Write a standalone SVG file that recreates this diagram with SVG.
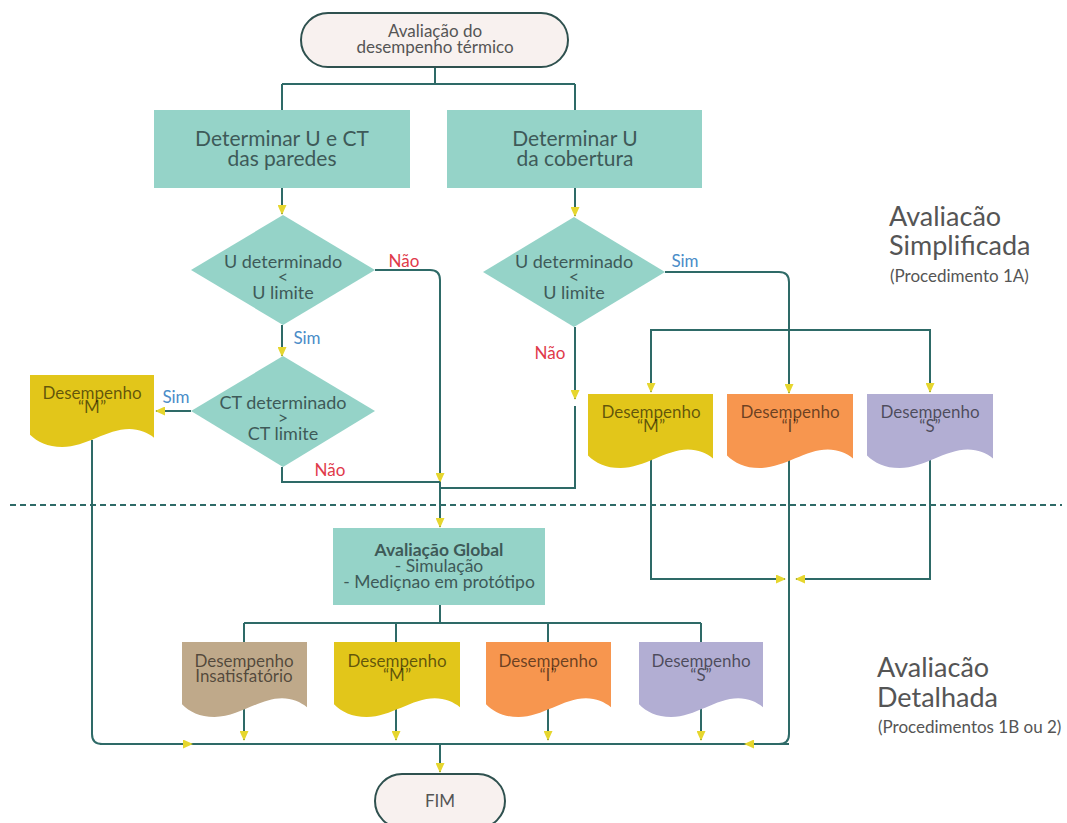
<svg xmlns="http://www.w3.org/2000/svg" xmlns:xlink="http://www.w3.org/1999/xlink" width="1067" height="823" viewBox="0 0 1067 823">
<style>
text{font-family:Lato,"Liberation Sans",sans-serif;text-anchor:middle}
.term{fill:#f8f1ef;stroke:#2f514f;stroke-width:2}
.proc{fill:#95d3c8}
.ptxt{fill:#3e5a58;font-size:21px}
.dtxt{fill:#3e5a58;font-size:18px}
.doctxt{font-size:17px;fill:#000;fill-opacity:0.58}
.gtxt{fill:#3e5a58;font-size:17.5px}
.ttxt{fill:#555;font-size:17px}
.no{fill:#e0394a;font-size:17px}
.yes{fill:#4a8cc8;font-size:17px}
.side{fill:#555;font-size:27px;text-anchor:start}
.sidesm{fill:#555;font-size:17px;text-anchor:start}
.conn{fill:none;stroke:#2e6a67;stroke-width:2}
.dash{fill:none;stroke:#2e6a67;stroke-width:2;stroke-dasharray:6 4}
.y{fill:#e2c61a}.o{fill:#f7964f}.p{fill:#b2aed3}.b{fill:#bfa98a}
</style>
<defs>
<marker id="ah" markerUnits="userSpaceOnUse" markerWidth="10" markerHeight="9" refX="9" refY="4.5" orient="auto-start-reverse">
<path d="M0,0 L10,4.5 L0,9 Z" fill="#e6d62e"/>
</marker>
<path id="doc" d="M0,0 H1 V0.87 C0.95,0.8 0.88,0.75 0.8,0.75 C0.62,0.75 0.45,1 0.26,1 C0.14,1 0.06,0.93 0,0.83 Z"/>
</defs>

<g id="connectors">
<path class="dash" d="M10,505 H1062"/>
<path class="conn" d="M435,67 V84 M282,84 H575 M282,84 V110 M575,84 V110"/>
<path class="conn" marker-end="url(#ah)" d="M282,188 V214"/>
<path class="conn" marker-end="url(#ah)" d="M575,188 V216"/>
<path class="conn" marker-end="url(#ah)" d="M375,270 H430 Q440,270 440,280 V482"/>
<path class="conn" marker-end="url(#ah)" d="M440,482 V527"/>
<path class="conn" marker-end="url(#ah)" d="M282,325 V356"/>
<path class="conn" marker-end="url(#ah)" d="M191,411 H156"/>
<path class="conn" d="M282,467 V482 H440"/>
<path class="conn" marker-end="url(#ah)" d="M575,327 V399"/>
<path class="conn" d="M575,406 V488 H440"/>
<path class="conn" marker-end="url(#ah)" d="M665,272 H779 Q789,272 789,282 V393"/>
<path class="conn" marker-start="url(#ah)" marker-end="url(#ah)" d="M651,392 V330 H930 V392"/>
<path class="conn" marker-end="url(#ah)" d="M651,458 V579 H785"/>
<path class="conn" marker-end="url(#ah)" d="M930,458 V579 H796"/>
<path class="conn" d="M100,744 H779 Q789,744 789,734 V458"/>
<path class="conn" marker-end="url(#ah)" d="M789,744 H745"/>
<path class="conn" marker-end="url(#ah)" d="M92,440 V734 Q92,744 102,744 H192"/>
<path class="conn" d="M440,605 V623 M244,623 H701 M244,623 V642 M396,623 V642 M548,623 V642 M701,623 V642"/>
<path class="conn" marker-end="url(#ah)" d="M244,700 V740"/>
<path class="conn" marker-end="url(#ah)" d="M396,700 V740"/>
<path class="conn" marker-end="url(#ah)" d="M548,700 V740"/>
<path class="conn" marker-end="url(#ah)" d="M701,700 V740"/>
<path class="conn" marker-end="url(#ah)" d="M440,744 V772"/>
</g>

<g id="start">
<rect class="term" x="301" y="13" width="267" height="54" rx="27"/>
<text class="ttxt" x="435" y="37">Avaliação do</text>
<text class="ttxt" x="435" y="53">desempenho térmico</text>
</g>

<g id="box-paredes">
<rect class="proc" x="154" y="110" width="256" height="78"/>
<text class="ptxt" x="282" y="146">Determinar U e CT</text>
<text class="ptxt" x="282" y="166">das paredes</text>
</g>

<g id="box-cobertura">
<rect class="proc" x="447" y="110" width="255" height="78"/>
<text class="ptxt" x="575" y="146">Determinar U</text>
<text class="ptxt" x="575" y="166">da cobertura</text>
</g>

<g id="dec-u-paredes">
<path class="proc" d="M283,215 L375,270 L283,325 L191,270 Z"/>
<text class="dtxt" x="283" y="268">U determinado</text>
<text class="dtxt" x="283" y="283">&lt;</text>
<text class="dtxt" x="283" y="299">U limite</text>
</g>

<g id="dec-ct">
<path class="proc" d="M283,356 L375,411 L283,467 L191,411 Z"/>
<text class="dtxt" x="283" y="409">CT determinado</text>
<text class="dtxt" x="283" y="424">&gt;</text>
<text class="dtxt" x="283" y="440">CT limite</text>
</g>

<g id="dec-u-cobertura">
<path class="proc" d="M574,217 L665,272 L574,327 L483,272 Z"/>
<text class="dtxt" x="574" y="268">U determinado</text>
<text class="dtxt" x="574" y="283">&lt;</text>
<text class="dtxt" x="574" y="299">U limite</text>
</g>

<g id="labels">
<text class="no" x="404" y="267">Não</text>
<text class="yes" x="307" y="344">Sim</text>
<text class="yes" x="176" y="403">Sim</text>
<text class="no" x="330" y="476">Não</text>
<text class="no" x="550" y="359">Não</text>
<text class="yes" x="685" y="267">Sim</text>
</g>

<g id="doc-m-left">
<use xlink:href="#doc" class="y" transform="translate(30,375) scale(124,72)"/>
<text class="doctxt" x="92" y="399">Desempenho</text>
<text class="doctxt" x="92" y="413">“M”</text>
</g>

<g id="doc-m-simp">
<use xlink:href="#doc" class="y" transform="translate(588,394) scale(125,74)"/>
<text class="doctxt" x="651" y="418">Desempenho</text>
<text class="doctxt" x="651" y="432">“M”</text>
</g>
<g id="doc-i-simp">
<use xlink:href="#doc" class="o" transform="translate(727,394) scale(126,74)"/>
<text class="doctxt" x="790" y="418">Desempenho</text>
<text class="doctxt" x="790" y="432">“I”</text>
</g>
<g id="doc-s-simp">
<use xlink:href="#doc" class="p" transform="translate(867,394) scale(126,74)"/>
<text class="doctxt" x="930" y="418">Desempenho</text>
<text class="doctxt" x="930" y="432">“S”</text>
</g>

<g id="global">
<rect class="proc" x="333" y="528" width="212" height="77"/>
<text class="gtxt" x="439" y="556" font-weight="bold">Avaliação Global</text>
<text class="gtxt" x="439" y="572">- Simulação</text>
<text class="gtxt" x="439" y="588">- Mediçnao em protótipo</text>
</g>

<g id="doc-insat">
<use xlink:href="#doc" class="b" transform="translate(182,642) scale(125,75)"/>
<text class="doctxt" x="244" y="667">Desempenho</text>
<text class="doctxt" x="244" y="682">Insatisfatório</text>
</g>
<g id="doc-m-det">
<use xlink:href="#doc" class="y" transform="translate(334,642) scale(126,75)"/>
<text class="doctxt" x="397" y="667">Desempenho</text>
<text class="doctxt" x="397" y="681">“M”</text>
</g>
<g id="doc-i-det">
<use xlink:href="#doc" class="o" transform="translate(486,642) scale(125,75)"/>
<text class="doctxt" x="548" y="667">Desempenho</text>
<text class="doctxt" x="548" y="681">“I”</text>
</g>
<g id="doc-s-det">
<use xlink:href="#doc" class="p" transform="translate(639,642) scale(124,75)"/>
<text class="doctxt" x="701" y="667">Desempenho</text>
<text class="doctxt" x="701" y="681">“S”</text>
</g>

<g id="fim">
<rect class="term" x="375" y="774" width="130" height="54" rx="27"/>
<text class="ttxt" x="440" y="807" font-size="19">FIM</text>
</g>

<g id="section-labels">
<text class="side" x="889" y="226">Avaliacão</text>
<text class="side" x="889" y="255">Simplificada</text>
<text class="sidesm" x="890" y="282">(Procedimento 1A)</text>
<text class="side" x="877" y="677">Avaliacão</text>
<text class="side" x="877" y="707">Detalhada</text>
<text class="sidesm" x="878" y="733">(Procedimentos 1B ou 2)</text>
</g>
</svg>
